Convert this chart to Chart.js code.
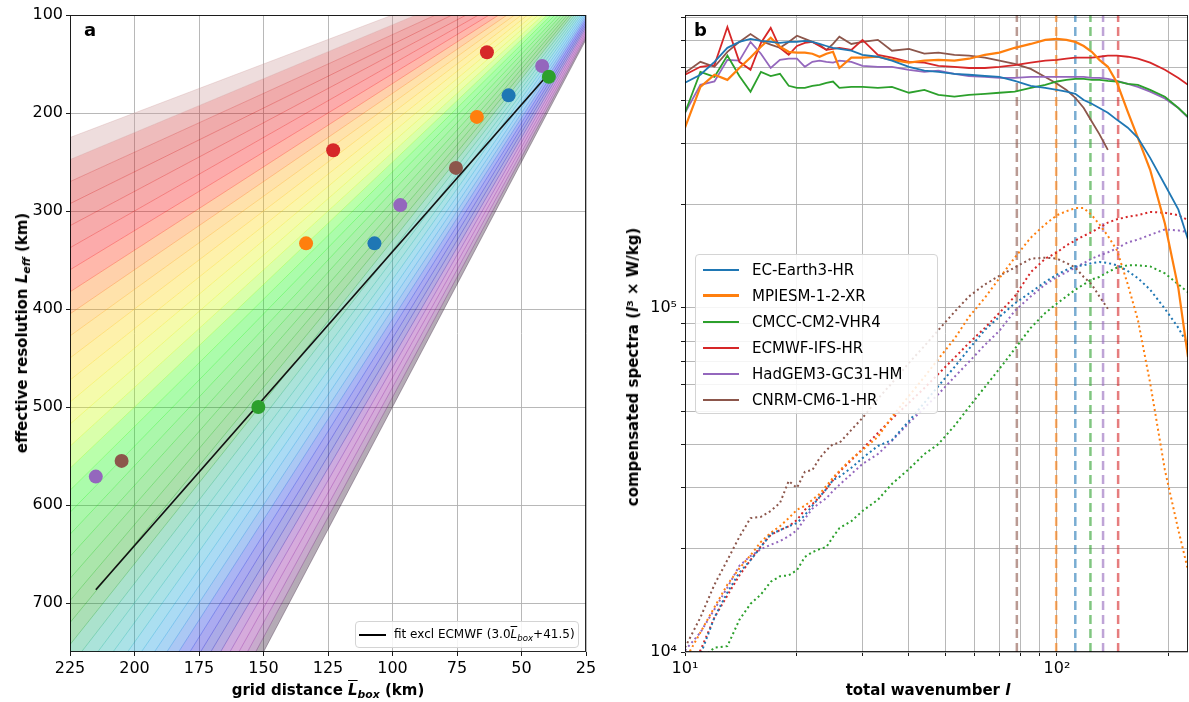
<!DOCTYPE html>
<html>
<head>
<meta charset="utf-8">
<title>Effective resolution and compensated spectra</title>
<script src="https://cdn.jsdelivr.net/npm/chart.js@4.4.1/dist/chart.umd.min.js"></script>
<style>
  body { margin: 0; background: #fff; }
  #page { position: relative; width: 1189px; height: 702px; overflow: hidden; font-family: "DejaVu Sans", sans-serif; color: #000; }
  canvas { position: absolute; top: 0; }
  #chartA { left: 0; }
  #chartB { left: 600px; }
  .title { position: absolute; font-size: 15px; font-weight: bold; white-space: nowrap; }
  .vtitle { transform: translate(-50%, -50%) rotate(-90deg); }
  .htitle { transform: translate(-50%, -50%); }
  .panel { position: absolute; font-size: 18px; font-weight: bold; }
  .legend { position: absolute; background: rgba(255,255,255,0.85); border: 1px solid #d4d4d4; border-radius: 4px; box-sizing: border-box; white-space: nowrap; }
  .row { position: relative; height: 26px; line-height: 26px; font-size: 15px; padding-left: 56px; }
  .sw { position: absolute; left: 7px; top: 12px; width: 36px; height: 2px; }
  sub { font-size: 0.72em; vertical-align: -0.3em; line-height: 0; }
  .ov { text-decoration: overline; }
</style>
</head>
<body>
<div id="page">
  <canvas id="chartA" width="600" height="702"></canvas>
  <canvas id="chartB" width="589" height="702"></canvas>

  <div class="panel" style="left:84px;top:19px;">a</div>
  <div class="panel" style="left:694px;top:19px;">b</div>

  <div class="title vtitle" style="left:22px;top:333px;">effective resolution <i>L</i><sub><i>eff</i></sub> (km)</div>
  <div class="title htitle" style="left:328px;top:690px;">grid distance <i class="ov">L</i><sub><i>box</i></sub> (km)</div>
  <div class="title vtitle" style="left:633px;top:367px;">compensated spectra (<i>l</i>³ × W/kg)</div>
  <div class="title htitle" style="left:928px;top:690px;">total wavenumber <i>l</i></div>

  <div class="legend" id="legA" style="left:355px;top:621px;width:224px;height:27px;">
    <span style="position:absolute;left:3px;top:12px;width:27px;height:1.6px;background:#000;"></span>
    <span style="position:absolute;left:38px;top:5px;font-size:12px;">fit excl ECMWF (3.0<i class="ov">L</i><sub><i>box</i></sub>+41.5)</span>
  </div>
  <div class="legend" id="legB" style="left:695px;top:254px;width:243px;height:160px;padding-top:2px;"></div>
</div>

<script>
"use strict";

/*--------------------------------------
    panel a data
--------------------------------------*/

var MODELS = ["EC-Earth3-HR", "MPIESM-1-2-XR", "CMCC-CM2-VHR4", "ECMWF-IFS-HR", "HadGEM3-GC31-HM", "CNRM-CM6-1-HR"];
var COLORS = ["#1f77b4", "#ff7f0e", "#2ca02c", "#d62728", "#9467bd", "#8c564b"];

// grid distance (km) and effective resolution (km) of each model run
var GRID_KM = [[107, 55], [133.5, 67.3], [152, 39.4], [123, 63.4], [215, 97, 42], [205, 75.4]];
var LEFF_KM = [[333, 182], [333, 204], [500, 163], [238, 138], [571, 294, 152], [555, 256]];

var FIT_SLOPE = 3.0;
var FIT_INTERCEPT = 41.5;
var FIT_EXCLUDED = "ECMWF-IFS-HR";

// Leff / Lbox ratios of the coloured fan
var FAN_RATIOS = [1.0, 1.1, 1.2, 1.3, 1.4, 1.5, 1.6, 1.7, 1.8, 1.9, 2.0, 2.1, 2.2, 2.3, 2.4, 2.5, 2.6, 2.7, 2.8, 2.9,
  3.0, 3.1, 3.2, 3.3, 3.4, 3.5, 3.6, 3.7, 3.8, 3.9, 4.0, 4.1, 4.2, 4.3, 4.4, 4.5, 4.6, 4.7, 4.8, 4.9, 5.0];

var A_X_TICKS = [225, 200, 175, 150, 125, 100, 75, 50, 25];
var A_Y_TICKS = [100, 200, 300, 400, 500, 600, 700];
var A_X_MIN = 25, A_X_MAX = 225, A_Y_MIN = 100, A_Y_MAX = 750;

/*--------------------------------------
    panel b data
--------------------------------------*/

var WAVENUMBER = [10, 11, 12, 13, 14, 15, 16, 17, 18, 19, 20, 21, 22, 23, 24, 25, 26, 28, 30, 33, 36, 40, 44, 48, 53,
  58, 64, 70, 77, 85, 93, 100, 106, 112, 118, 124, 130, 137, 145, 155, 165, 178, 195, 212, 225];

// solid: HR spectra
var SPEC_EC_EARTH = [4.51e5, 4.76e5, 5.19e5, 5.70e5, 5.93e5, 6.05e5, 5.97e5, 5.93e5, 5.89e5, 5.93e5, 5.93e5, 5.97e5, 5.93e5, 5.85e5, 5.77e5, 5.70e5, 5.66e5,
  5.59e5, 5.44e5, 5.37e5, 5.23e5, 5.02e5, 4.89e5, 4.85e5, 4.79e5, 4.76e5, 4.72e5, 4.69e5, 4.57e5, 4.42e5, 4.36e5, 4.30e5, 4.25e5, 4.19e5, 4.02e5, 3.92e5, 3.81e5, 3.69e5, 3.52e5, 3.34e5, 3.12e5, 2.73e5, 2.28e5, 1.93e5, 1.58e5];
var SPEC_MPIESM = [3.34e5, 4.39e5, 4.76e5, 4.60e5, 4.98e5, 5.34e5, 5.74e5, 6.10e5, 5.74e5, 5.55e5, 5.52e5, 5.52e5, 5.48e5, 5.37e5, 5.48e5, 5.55e5, 4.98e5,
  5.34e5, 5.34e5, 5.37e5, 5.26e5, 5.16e5, 5.23e5, 5.26e5, 5.23e5, 5.30e5, 5.44e5, 5.52e5, 5.70e5, 5.85e5, 6.01e5, 6.05e5, 6.01e5, 5.93e5, 5.77e5, 5.55e5, 5.26e5, 5.02e5, 4.51e5, 3.71e5, 3.12e5, 2.52e5, 1.76e5, 1.14e5, 7.2e4];
var SPEC_CMCC = [3.69e5, 4.85e5, 4.69e5, 5.41e5, 4.72e5, 4.25e5, 4.85e5, 4.72e5, 4.79e5, 4.42e5, 4.36e5, 4.36e5, 4.42e5, 4.45e5, 4.51e5, 4.55e5, 4.36e5,
  4.39e5, 4.39e5, 4.36e5, 4.39e5, 4.22e5, 4.30e5, 4.16e5, 4.11e5, 4.16e5, 4.19e5, 4.22e5, 4.25e5, 4.36e5, 4.45e5, 4.55e5, 4.60e5, 4.63e5, 4.63e5, 4.60e5, 4.60e5, 4.57e5, 4.55e5, 4.48e5, 4.45e5, 4.30e5, 4.11e5, 3.81e5, 3.59e5];
var SPEC_ECMWF = [4.76e5, 5.02e5, 5.08e5, 6.55e5, 5.19e5, 4.92e5, 5.89e5, 6.51e5, 5.70e5, 5.44e5, 5.77e5, 5.89e5, 5.93e5, 5.77e5, 5.62e5, 5.66e5, 5.70e5,
  5.62e5, 6.01e5, 5.44e5, 5.34e5, 5.19e5, 5.16e5, 5.05e5, 5.02e5, 4.98e5, 4.98e5, 5.02e5, 5.08e5, 5.16e5, 5.23e5, 5.26e5, 5.30e5, 5.34e5, 5.34e5, 5.34e5, 5.37e5, 5.41e5, 5.41e5, 5.37e5, 5.30e5, 5.16e5, 4.92e5, 4.66e5, 4.45e5];
var SPEC_HADGEM = [3.69e5, 4.45e5, 4.55e5, 5.26e5, 5.23e5, 5.93e5, 5.48e5, 4.98e5, 5.26e5, 5.30e5, 5.30e5, 5.02e5, 5.19e5, 5.23e5, 5.19e5, 5.16e5, 5.23e5,
  5.19e5, 5.05e5, 5.02e5, 5.02e5, 4.92e5, 4.85e5, 4.89e5, 4.79e5, 4.72e5, 4.69e5, 4.66e5, 4.66e5, 4.69e5, 4.69e5, 4.69e5, 4.69e5, 4.69e5, 4.69e5, 4.66e5, 4.66e5, 4.63e5, 4.57e5, 4.48e5, 4.39e5, 4.25e5, 4.06e5, 3.81e5, 3.57e5];
var SPEC_CNRM = [4.82e5, 5.19e5, 5.02e5, 5.55e5, 5.93e5, 6.25e5, 5.97e5, 5.82e5, 5.70e5, 5.93e5, 6.18e5, 6.05e5, 5.93e5, 5.82e5, 5.62e5, 5.85e5, 6.14e5,
  5.85e5, 5.93e5, 6.01e5, 5.59e5, 5.66e5, 5.48e5, 5.52e5, 5.44e5, 5.41e5, 5.34e5, 5.23e5, 5.12e5, 4.95e5, 4.69e5, 4.48e5, 4.30e5, 4.08e5, 3.81e5, 3.48e5, 3.20e5, 2.88e5, null, null, null, null, null, null, null];

// dotted: second spectrum of each model
var DOT_EC_EARTH = [8.75e3, 9.80e3, 1.26e4, 1.49e4, 1.70e4, 1.85e4, 2.02e4, 2.20e4, 2.26e4, 2.32e4, 2.37e4, 2.50e4, 2.66e4, 2.82e4, 2.98e4, 3.16e4, 3.23e4,
  3.43e4, 3.66e4, 3.97e4, 4.13e4, 4.69e4, 5.30e4, 5.93e4, 6.73e4, 7.60e4, 8.63e4, 9.42e4, 1.03e5, 1.11e5, 1.19e5, 1.25e5, 1.29e5, 1.32e5, 1.33e5, 1.35e5, 1.36e5, 1.35e5, 1.33e5, 1.28e5, 1.22e5, 1.13e5, 9.94e4, 8.75e4, 7.81e4];
var DOT_MPIESM = [9.48e3, 1.14e4, 1.35e4, 1.57e4, 1.75e4, 1.91e4, 2.09e4, 2.22e4, 2.32e4, 2.45e4, 2.59e4, 2.66e4, 2.77e4, 2.88e4, 3.04e4, 3.21e4, 3.36e4,
  3.64e4, 3.86e4, 4.22e4, 4.82e4, 5.55e4, 6.30e4, 7.11e4, 8.13e4, 9.42e4, 1.07e5, 1.22e5, 1.40e5, 1.60e5, 1.75e5, 1.86e5, 1.91e5, 1.95e5, 1.95e5, 1.86e5, 1.75e5, 1.62e5, 1.47e5, 1.17e5, 9.23e4, 6.05e4, 3.38e4, 2.26e4, 1.73e4];
var DOT_CMCC = [null, 9.48e3, 1.03e4, 1.04e4, 1.24e4, 1.38e4, 1.47e4, 1.60e4, 1.66e4, 1.67e4, 1.73e4, 1.89e4, 1.95e4, 1.99e4, 2.02e4, 2.16e4, 2.29e4,
  2.40e4, 2.57e4, 2.77e4, 3.08e4, 3.40e4, 3.76e4, 4.02e4, 4.54e4, 5.15e4, 5.89e4, 6.65e4, 7.60e4, 8.75e4, 9.67e4, 1.03e5, 1.08e5, 1.13e5, 1.17e5, 1.21e5, 1.23e5, 1.27e5, 1.31e5, 1.33e5, 1.33e5, 1.32e5, 1.26e5, 1.17e5, 1.11e5];
var DOT_ECMWF = [9.17e3, 1.01e4, 1.26e4, 1.46e4, 1.67e4, 1.85e4, 2.03e4, 2.19e4, 2.26e4, 2.32e4, 2.42e4, 2.59e4, 2.69e4, 2.82e4, 2.98e4, 3.16e4, 3.34e4,
  3.61e4, 3.89e4, 4.33e4, 4.76e4, 5.30e4, 5.85e4, 6.43e4, 7.16e4, 7.91e4, 8.75e4, 9.67e4, 1.08e5, 1.27e5, 1.39e5, 1.45e5, 1.52e5, 1.57e5, 1.62e5, 1.66e5, 1.71e5, 1.77e5, 1.81e5, 1.84e5, 1.86e5, 1.90e5, 1.89e5, 1.86e5, 1.80e5];
var DOT_HADGEM = [1.01e4, 1.14e4, 1.33e4, 1.54e4, 1.78e4, 1.90e4, 1.99e4, 2.05e4, 2.10e4, 2.17e4, 2.26e4, 2.44e4, 2.61e4, 2.71e4, 2.80e4, 2.94e4, 3.06e4,
  3.29e4, 3.52e4, 3.76e4, 4.11e4, 4.63e4, 5.12e4, 5.62e4, 6.30e4, 6.97e4, 7.81e4, 8.58e4, 9.80e4, 1.08e5, 1.17e5, 1.23e5, 1.27e5, 1.31e5, 1.35e5, 1.39e5, 1.42e5, 1.45e5, 1.49e5, 1.55e5, 1.58e5, 1.63e5, 1.69e5, 1.68e5, 1.66e5];
var DOT_CNRM = [1.03e4, 1.26e4, 1.57e4, 1.85e4, 2.16e4, 2.45e4, 2.47e4, 2.57e4, 2.71e4, 3.14e4, 3.00e4, 3.34e4, 3.38e4, 3.66e4, 3.86e4, 4.02e4, 4.05e4,
  4.42e4, 4.79e4, 5.44e4, 6.05e4, 6.92e4, 7.75e4, 8.63e4, 9.73e4, 1.08e5, 1.17e5, 1.24e5, 1.31e5, 1.39e5, 1.40e5, 1.39e5, 1.35e5, 1.31e5, 1.23e5, 1.17e5, 1.08e5, 9.94e4, null, null, null, null, null, null, null];

// dashed: effective-resolution wavenumber of each model
var CUTOFF_L = [112, 99.5, 123, 146, 133, 78];

var B_X_TICKS = [10, 20, 30, 40, 50, 60, 70, 80, 90, 100, 200];
var B_Y_TICKS = [1e4, 2e4, 3e4, 4e4, 5e4, 6e4, 7e4, 8e4, 9e4, 1e5, 2e5, 3e5, 4e5, 5e5, 6e5, 7e5];
var B_X_MIN = 10, B_X_MAX = 225, B_Y_MIN = 1e4, B_Y_MAX = 7.1e5;

var SOLID = [SPEC_EC_EARTH, SPEC_MPIESM, SPEC_CMCC, SPEC_ECMWF, SPEC_HADGEM, SPEC_CNRM];
var DOTTED = [DOT_EC_EARTH, DOT_MPIESM, DOT_CMCC, DOT_ECMWF, DOT_HADGEM, DOT_CNRM];

/*--------------------------------------
    helpers
--------------------------------------*/

Chart.defaults.font.family = '"DejaVu Sans", sans-serif';
Chart.defaults.font.size = 16;
Chart.defaults.color = '#000';

// nipy_spectral colour map
var CM_R = [0, .4667, .5333, 0, 0, 0, 0, 0, 0, 0, 0, 0, 0, .7333, .9333, 1, 1, 1, .8667, .8, .8];
var CM_G = [0, 0, 0, 0, 0, .4667, .6, .6667, .6667, .6, .7333, .8667, 1, 1, .9333, .8, .6, 0, 0, 0, .8];
var CM_B = [0, .5333, .6, .6667, .8667, .8667, .8667, .6667, .5333, 0, 0, 0, 0, 0, 0, 0, 0, 0, 0, 0, .8];

function spectral(c, alpha) {
  var p = Math.max(0, Math.min(1, c)) * 20;
  var i = Math.min(19, Math.floor(p)), t = p - i;
  var f = function (a) { return Math.round((a[i] + (a[i + 1] - a[i]) * t) * 255); };
  return 'rgba(' + f(CM_R) + ',' + f(CM_G) + ',' + f(CM_B) + ',' + alpha + ')';
}

function hexA(hex, alpha) {
  var n = parseInt(hex.slice(1), 16);
  return 'rgba(' + (n >> 16) + ',' + ((n >> 8) & 255) + ',' + (n & 255) + ',' + alpha + ')';
}

var SUP = { '0': '⁰', '1': '¹', '2': '²', '3': '³', '4': '⁴', '5': '⁵', '6': '⁶', '7': '⁷', '8': '⁸', '9': '⁹' };
function powLabel(v) {
  var e = Math.log10(v);
  if (Math.abs(e - Math.round(e)) > 1e-9) return '';
  return '10' + String(Math.round(e)).split('').map(function (d) { return SUP[d]; }).join('');
}

var framePlugin = {
  id: 'frame',
  afterDatasetsDraw: function (chart) {
    var a = chart.chartArea, c = chart.ctx;
    c.save();
    c.strokeStyle = 'rgba(0,0,0,0.85)';
    c.lineWidth = 1;
    c.strokeRect(a.left + 0.5, a.top + 0.5, a.right - a.left - 1, a.bottom - a.top - 1);
    c.restore();
  }
};

function axis(extra) {
  var base = {
    border: { display: false },
    grid: { color: '#b0b0b0', lineWidth: 0.9, tickLength: 4, tickColor: '#000' },
    ticks: { color: '#000', padding: 3, maxRotation: 0, autoSkip: false, font: { size: 16 } }
  };
  return Object.assign(base, extra);
}

/*--------------------------------------
    panel a
--------------------------------------*/

var pointSets = MODELS.map(function (m, i) {
  return {
    label: m,
    showLine: false,
    data: GRID_KM[i].map(function (x, j) { return { x: x, y: LEFF_KM[i][j] }; }),
    pointRadius: 7, pointHoverRadius: 7, pointBorderWidth: 0,
    pointBackgroundColor: COLORS[i], borderColor: COLORS[i]
  };
});

var fitX = [];
MODELS.forEach(function (m, i) { if (m !== FIT_EXCLUDED) fitX = fitX.concat(GRID_KM[i]); });
var fitSet = {
  label: 'fit',
  data: [Math.max.apply(null, fitX), Math.min.apply(null, fitX)].map(function (x) { return { x: x, y: FIT_SLOPE * x + FIT_INTERCEPT }; }),
  borderColor: '#111', borderWidth: 1.7, pointRadius: 0
};

var kMin = FAN_RATIOS[0], kMax = FAN_RATIOS[FAN_RATIOS.length - 1];
var fanSets = FAN_RATIOS.map(function (k, j) {
  var kMid = j === 0 ? (k + FAN_RATIOS[1]) / 2 : (k + FAN_RATIOS[j - 1]) / 2;
  var c = (kMax - kMid) / (kMax - kMin);
  return {
    label: 'ratio ' + k,
    data: [{ x: A_X_MIN, y: A_X_MIN * k }, { x: A_X_MAX, y: A_X_MAX * k }],
    borderColor: spectral(c, 0.5), borderWidth: 0.6, pointRadius: 0,
    backgroundColor: spectral(c, 0.33),
    fill: j === 0 ? false : '-1'
  };
});

new Chart(document.getElementById('chartA'), {
  type: 'line',
  data: { datasets: pointSets.concat([fitSet], fanSets) },
  options: {
    animation: false, responsive: false, devicePixelRatio: 1,
    layout: { padding: { left: 0, right: 14, top: 15, bottom: 0 } },
    plugins: { legend: { display: false }, tooltip: { enabled: false } },
    scales: {
      x: axis({
        type: 'linear', reverse: true, min: A_X_MIN, max: A_X_MAX,
        afterBuildTicks: function (s) { s.ticks = A_X_TICKS.map(function (v) { return { value: v }; }); },
        afterFit: function (s) { s.height = 50; }
      }),
      y: axis({
        type: 'linear', reverse: true, min: A_Y_MIN, max: A_Y_MAX,
        afterBuildTicks: function (s) { s.ticks = A_Y_TICKS.map(function (v) { return { value: v }; }); },
        afterFit: function (s) { s.width = 70; }
      })
    }
  },
  plugins: [framePlugin]
});

/*--------------------------------------
    panel b
--------------------------------------*/

function series(values) {
  var out = [];
  values.forEach(function (v, i) { if (v !== null) out.push({ x: WAVENUMBER[i], y: v }); });
  return out;
}

var solidSets = MODELS.map(function (m, i) {
  return { label: m, data: series(SOLID[i]), borderColor: COLORS[i], borderWidth: i === 1 ? 2.2 : 1.8, pointRadius: 0 };
});
var dottedSets = MODELS.map(function (m, i) {
  return { label: m + ' dotted', data: series(DOTTED[i]), borderColor: COLORS[i], borderWidth: 2, borderDash: [2, 3], pointRadius: 0 };
});
var cutoffSets = MODELS.map(function (m, i) {
  return {
    label: m + ' cutoff',
    data: [{ x: CUTOFF_L[i], y: B_Y_MIN }, { x: CUTOFF_L[i], y: B_Y_MAX }],
    borderColor: hexA(COLORS[i], 0.6), borderWidth: 2.5, borderDash: [9, 5], pointRadius: 0
  };
});

new Chart(document.getElementById('chartB'), {
  type: 'line',
  data: { datasets: solidSets.concat(dottedSets, cutoffSets) },
  options: {
    animation: false, responsive: false, devicePixelRatio: 1,
    layout: { padding: { left: 0, right: 1, top: 15, bottom: 0 } },
    plugins: { legend: { display: false }, tooltip: { enabled: false } },
    scales: {
      x: axis({
        type: 'logarithmic', min: B_X_MIN, max: B_X_MAX,
        afterBuildTicks: function (s) { s.ticks = B_X_TICKS.map(function (v) { return { value: v }; }); },
        afterFit: function (s) { s.height = 50; },
        ticks: { color: '#000', padding: 3, maxRotation: 0, autoSkip: false, font: { size: 16 }, callback: powLabel }
      }),
      y: axis({
        type: 'logarithmic', min: B_Y_MIN, max: B_Y_MAX,
        afterBuildTicks: function (s) { s.ticks = B_Y_TICKS.map(function (v) { return { value: v }; }); },
        afterFit: function (s) { s.width = 85; },
        ticks: { color: '#000', padding: 4, autoSkip: false, font: { size: 16 }, callback: powLabel }
      })
    }
  },
  plugins: [framePlugin]
});

// legend of panel b
var leg = document.getElementById('legB');
MODELS.forEach(function (m, i) {
  var row = document.createElement('div');
  row.className = 'row';
  var sw = document.createElement('span');
  sw.className = 'sw';
  sw.style.background = COLORS[i];
  if (i === 1) { sw.style.height = '3px'; sw.style.top = '11px'; }
  row.appendChild(sw);
  row.appendChild(document.createTextNode(m));
  leg.appendChild(row);
});
</script>
</body>
</html>
